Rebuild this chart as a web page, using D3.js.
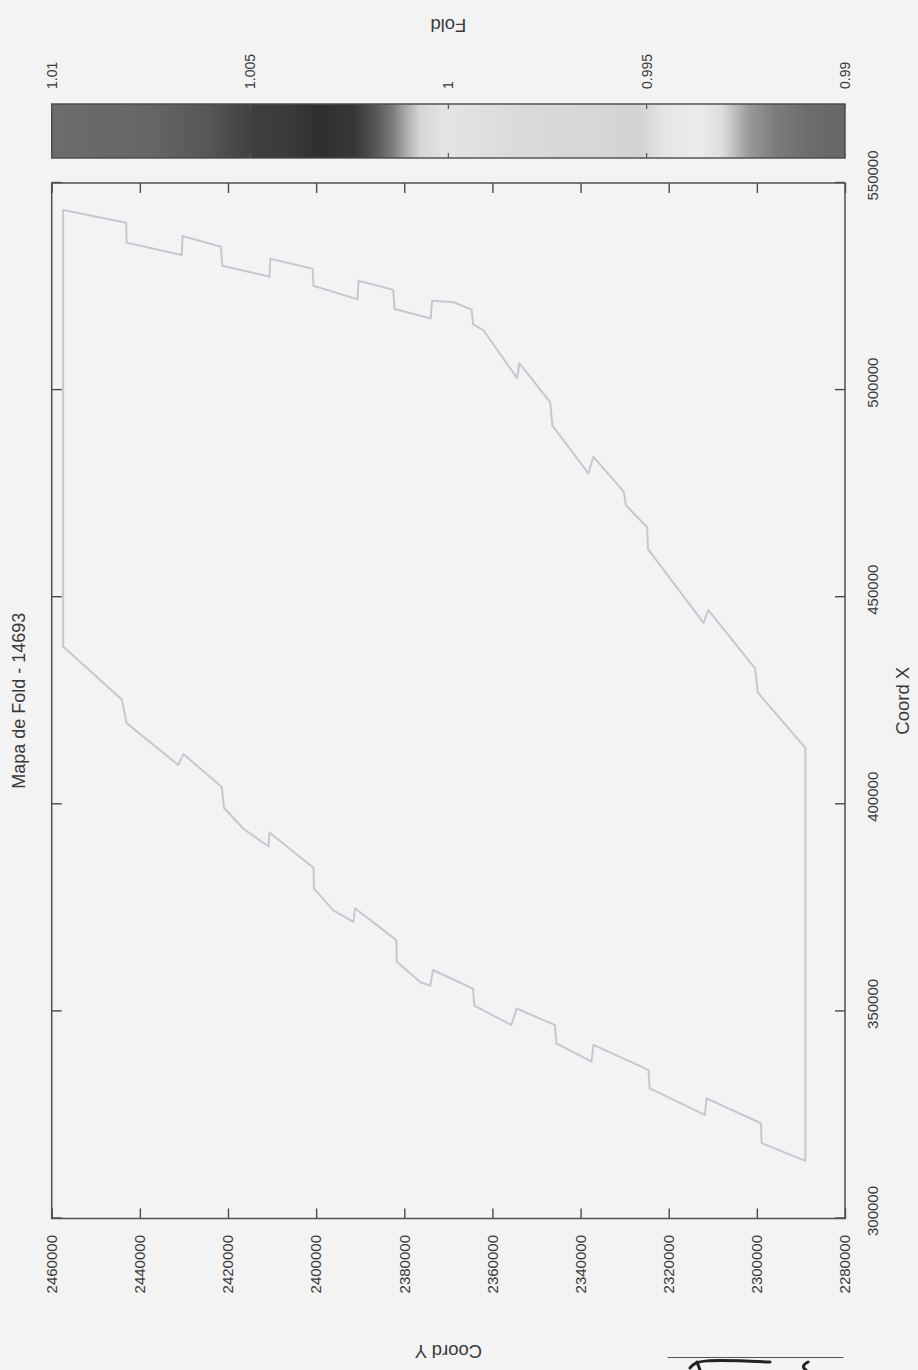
<!DOCTYPE html>
<html>
<head>
<meta charset="utf-8">
<script src="https://cdn.jsdelivr.net/npm/d3@7"></script>
<style>
  html, body { margin: 0; padding: 0; background: #f3f3f3; }
  svg { display: block; }
  text { font-family: "Liberation Sans", Arial, sans-serif; fill: #3a3a3a; }
</style>
</head>
<body>
<svg id="chart" width="918" height="1370"></svg>
<script>
// ---------------- data ----------------
const titleText = "Mapa de Fold - 14693";
const xLabelText = "Coord X";
const yLabelText = "Coord Y";
const cbLabelText = "Fold";

const coordXTicks = [300000, 350000, 400000, 450000, 500000, 550000];
const coordYTicks = [2280000, 2300000, 2320000, 2340000, 2360000, 2380000, 2400000, 2420000, 2440000, 2460000];
const foldTicks = [0.99, 0.995, 1, 1.005, 1.01];
const foldTickLabels = ["0.99", "0.995", "1", "1.005", "1.01"];

// outline of the survey area (closed polygon), Coord X / Coord Y
const outlineX = [543500, 540400, 535600, 532600, 537200, 534600, 530000, 527400, 531700, 529300,
  525200, 521900, 526400, 524200, 519600, 517300, 521600, 521200, 519400, 515900,
  514400, 502900, 506500, 497100, 491400, 479900, 483900, 475500, 472200, 466900,
  461600, 443800, 446900, 432800, 427000, 413600, 313900, 318200, 323000, 329000,
  325000, 331400, 335900, 341900, 337900, 342300, 346700, 350700, 346700, 351400,
  355500, 360000, 356200, 357100, 362000, 367200, 374900, 371600, 374400, 379700,
  384700, 393200, 389800, 394100, 399100, 404200, 412100, 409500, 419600, 425300,
  438100];
const outlineY = [2457400, 2443100, 2443000, 2430500, 2430300, 2421600, 2421300, 2410600, 2410400, 2400800,
  2400600, 2390600, 2390400, 2382500, 2382200, 2374000, 2373700, 2368800, 2364700, 2364400,
  2362000, 2354400, 2353900, 2346900, 2346400, 2338200, 2337100, 2330200, 2329700, 2324900,
  2324700, 2312100, 2311000, 2300400, 2299800, 2289000, 2289000, 2298900, 2299100, 2311400,
  2311800, 2324300, 2324600, 2337100, 2337500, 2345500, 2345800, 2354500, 2355700, 2364100,
  2364400, 2373500, 2374100, 2376400, 2381700, 2381800, 2391200, 2391500, 2396100, 2400500,
  2400600, 2410600, 2410800, 2416500, 2420900, 2421400, 2430100, 2431300, 2443000, 2444100,
  2457400];

// colour map of the Fold colorbar (as printed, grey levels)
const foldStops = [1.0100, 1.0075, 1.0060, 1.00487, 1.0040, 1.00324, 1.00235, 1.00185, 1.00142, 1.00109,
  1.00071, 1.00008, 0.99819, 0.99618, 0.99517, 0.99454, 0.99366, 0.99310, 0.99277, 0.99240,
  0.99177, 0.99089, 0.9900];
const foldGrays = ["#6c6c6c", "#666666", "#555555", "#3e3e3e", "#3a3a3a", "#2e2e2e", "#383838", "#555555", "#7a7a7a", "#a8a8a8",
  "#d6d6d6", "#e4e4e4", "#dadada", "#d6d6d6", "#d2d2d2", "#e6e6e6", "#ebebeb", "#dedede", "#bcbcbc", "#999999",
  "#7c7c7c", "#6c6c6c", "#666666"];

// ---------------- drawing ----------------
const W = 918, H = 1370;
const svg = d3.select("#chart");
svg.append("rect").attr("width", W).attr("height", H).attr("fill", "#f3f3f3");

// the page is a landscape figure rotated 90deg counter-clockwise
const g = svg.append("g").attr("transform", `translate(0,${H}) rotate(-90)`);

const plot = { left: 151.5, right: 1187, top: 51.7, bottom: 845 };
const x = d3.scaleLinear().domain([300000, 550000]).range([plot.left, plot.right]);
const y = d3.scaleLinear().domain([2280000, 2460000]).range([plot.bottom, plot.top]);
const fmt = d3.format("d");

// outline
const line = d3.line().x((d, i) => x(outlineX[i])).y((d, i) => y(outlineY[i])).curve(d3.curveLinearClosed);
g.append("path")
  .datum(outlineX)
  .attr("d", line)
  .attr("fill", "none")
  .attr("stroke", "#c6c7d3")
  .attr("stroke-width", 2)
  .attr("stroke-linejoin", "round");

// axes
const tickLen = 10;
const axBottom = g.append("g").attr("transform", `translate(0,${plot.bottom})`)
  .call(d3.axisBottom(x).tickValues(coordXTicks).tickSize(-tickLen).tickPadding(22).tickFormat(fmt));
axBottom.selectAll("text").attr("x", 7).style("font-size", "15px");

const axLeft = g.append("g").attr("transform", `translate(${plot.left},0)`)
  .call(d3.axisLeft(y).tickValues(coordYTicks).tickSize(-tickLen).tickPadding(16.5).tickFormat(fmt));
axLeft.selectAll("text").style("font-size", "15px");

g.append("g").attr("transform", `translate(0,${plot.top})`)
  .call(d3.axisTop(x).tickValues(coordXTicks).tickSize(-tickLen).tickFormat(""));
g.append("g").attr("transform", `translate(${plot.right},0)`)
  .call(d3.axisRight(y).tickValues(coordYTicks).tickSize(-tickLen).tickFormat(""));

g.selectAll(".domain").remove();
g.selectAll(".tick line").attr("stroke", "#4a4a4a").attr("stroke-width", 1.4);
g.selectAll(".tick text").style("fill", "#3a3a3a").style("font-family", "Liberation Sans, Arial, sans-serif");

// frame
g.append("rect")
  .attr("x", plot.left).attr("y", plot.top)
  .attr("width", plot.right - plot.left).attr("height", plot.bottom - plot.top)
  .attr("fill", "none").attr("stroke", "#505050").attr("stroke-width", 1.5);

// colorbar
const cb = { left: 1212, right: 1266 };
const cbScale = d3.scaleLinear().domain([0.99, 1.01]).range([plot.bottom, plot.top]);
const foldColor = d3.scaleLinear().domain(foldStops).range(foldGrays);
const defs = svg.append("defs");
const grad = defs.append("linearGradient").attr("id", "foldGrad")
  .attr("gradientUnits", "userSpaceOnUse")
  .attr("x1", 0).attr("x2", 0)
  .attr("y1", cbScale(1.01)).attr("y2", cbScale(0.99));
const span = cbScale(0.99) - cbScale(1.01);
grad.selectAll("stop").data(foldStops).join("stop")
  .attr("offset", d => (cbScale(d) - cbScale(1.01)) / span)
  .attr("stop-color", d => foldColor(d));

g.append("rect")
  .attr("x", cb.left).attr("y", cbScale(1.01))
  .attr("width", cb.right - cb.left).attr("height", span)
  .attr("fill", "url(#foldGrad)")
  .attr("stroke", "#4a4a4a").attr("stroke-width", 1.4);

const cbTicks = g.append("g");
cbTicks.selectAll("line.l").data(foldTicks).join("line")
  .attr("x1", cb.left).attr("x2", cb.left + 5)
  .attr("y1", d => cbScale(d)).attr("y2", d => cbScale(d))
  .attr("stroke", "#555").attr("stroke-width", 1.2);
cbTicks.selectAll("line.r").data(foldTicks).join("line")
  .attr("x1", cb.right - 5).attr("x2", cb.right)
  .attr("y1", d => cbScale(d)).attr("y2", d => cbScale(d))
  .attr("stroke", "#555").attr("stroke-width", 1.2);
g.append("g").selectAll("text").data(foldTicks).join("text")
  .attr("x", cb.right + 15)
  .attr("y", d => cbScale(d))
  .attr("dy", "0.35em")
  .style("font-size", "14px")
  .text((d, i) => foldTickLabels[i]);

// labels
const cx = (plot.left + plot.right) / 2;
const cy = (plot.top + plot.bottom) / 2;
g.append("text").attr("x", cx).attr("y", 25).attr("text-anchor", "middle")
  .style("font-size", "18px").text(titleText);
g.append("text").attr("x", cx).attr("y", 909).attr("text-anchor", "middle")
  .style("font-size", "18.5px").text(xLabelText);
g.append("text").attr("transform", `translate(25,${cy}) rotate(-90)`).attr("text-anchor", "middle")
  .style("font-size", "18.5px").text(yLabelText);
g.append("text").attr("transform", `translate(1351,${cy}) rotate(-90)`).attr("text-anchor", "middle")
  .style("font-size", "18.5px").text(cbLabelText);

// scan artefact (handwritten mark at the bottom edge of the page)
const deco = svg.append("g").attr("fill", "none").attr("stroke-linecap", "round");
deco.append("path").attr("d", "M668,1357.5 L843,1357.5").attr("stroke", "#555").attr("stroke-width", 1.2);
deco.append("path").attr("d", "M690,1368 C695,1360 705,1359 770,1362").attr("stroke", "#222").attr("stroke-width", 3);
deco.append("path").attr("d", "M697,1362 L700,1370").attr("stroke", "#222").attr("stroke-width", 3);
deco.append("path").attr("d", "M808,1362 Q800,1366 806,1370").attr("stroke", "#222").attr("stroke-width", 3);
</script>
</body>
</html>
